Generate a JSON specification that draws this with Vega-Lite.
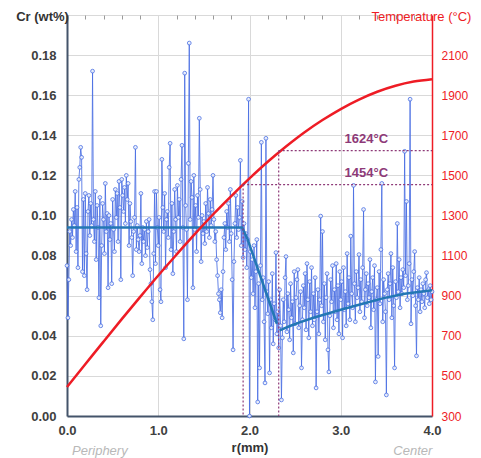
{
  "$schema": "https://vega.github.io/schema/vega-lite/v6.json",
  "width": 365,
  "height": 401,
  "autosize": "none",
  "padding": {"left": 67, "top": 15, "right": 49, "bottom": 42},
  "background": "white",
  "config": {"view": {"stroke": null}, "font": "Liberation Sans"},
  "datasets": {
    "cr": [
      {"r":0.00,"c":0.075},{"r":0.01,"c":0.049},{"r":0.02,"c":0.068},{"r":0.03,"c":0.092},{"r":0.04,"c":0.085},{"r":0.05,"c":0.098},{"r":0.06,"c":0.089},{"r":0.07,"c":0.103},{"r":0.08,"c":0.095},{"r":0.09,"c":0.112},
      {"r":0.10,"c":0.082},{"r":0.11,"c":0.104},{"r":0.12,"c":0.074},{"r":0.13,"c":0.118},{"r":0.14,"c":0.124},{"r":0.15,"c":0.134},{"r":0.16,"c":0.129},{"r":0.17,"c":0.072},{"r":0.18,"c":0.108},{"r":0.19,"c":0.070},
      {"r":0.20,"c":0.111},{"r":0.21,"c":0.081},{"r":0.22,"c":0.063},{"r":0.23,"c":0.102},{"r":0.24,"c":0.110},{"r":0.25,"c":0.090},{"r":0.26,"c":0.106},{"r":0.27,"c":0.095},{"r":0.28,"c":0.172},{"r":0.29,"c":0.098},
      {"r":0.30,"c":0.087},{"r":0.31,"c":0.112},{"r":0.32,"c":0.078},{"r":0.33,"c":0.105},{"r":0.34,"c":0.094},{"r":0.35,"c":0.059},{"r":0.36,"c":0.109},{"r":0.37,"c":0.045},{"r":0.38,"c":0.085},{"r":0.39,"c":0.106},
      {"r":0.40,"c":0.098},{"r":0.41,"c":0.081},{"r":0.42,"c":0.116},{"r":0.43,"c":0.092},{"r":0.44,"c":0.101},{"r":0.45,"c":0.064},{"r":0.46,"c":0.100},{"r":0.47,"c":0.088},{"r":0.48,"c":0.096},{"r":0.49,"c":0.066},
      {"r":0.50,"c":0.108},{"r":0.51,"c":0.093},{"r":0.52,"c":0.082},{"r":0.53,"c":0.113},{"r":0.54,"c":0.099},{"r":0.55,"c":0.111},{"r":0.56,"c":0.087},{"r":0.57,"c":0.117},{"r":0.58,"c":0.104},{"r":0.59,"c":0.068},
      {"r":0.60,"c":0.118},{"r":0.61,"c":0.110},{"r":0.62,"c":0.102},{"r":0.63,"c":0.114},{"r":0.64,"c":0.096},{"r":0.65,"c":0.120},{"r":0.66,"c":0.108},{"r":0.67,"c":0.116},{"r":0.68,"c":0.085},{"r":0.69,"c":0.106},
      {"r":0.70,"c":0.097},{"r":0.71,"c":0.089},{"r":0.72,"c":0.070},{"r":0.73,"c":0.092},{"r":0.74,"c":0.099},{"r":0.75,"c":0.134},{"r":0.76,"c":0.083},{"r":0.77,"c":0.095},{"r":0.78,"c":0.088},{"r":0.79,"c":0.082},
      {"r":0.80,"c":0.090},{"r":0.81,"c":0.111},{"r":0.82,"c":0.076},{"r":0.83,"c":0.094},{"r":0.84,"c":0.087},{"r":0.85,"c":0.093},{"r":0.86,"c":0.080},{"r":0.87,"c":0.097},{"r":0.88,"c":0.084},{"r":0.89,"c":0.092},
      {"r":0.90,"c":0.098},{"r":0.91,"c":0.073},{"r":0.92,"c":0.066},{"r":0.93,"c":0.057},{"r":0.94,"c":0.048},{"r":0.95,"c":0.081},{"r":0.96,"c":0.112},{"r":0.97,"c":0.076},{"r":0.98,"c":0.112},{"r":0.99,"c":0.094},
      {"r":1.00,"c":0.085},{"r":1.01,"c":0.099},{"r":1.02,"c":0.063},{"r":1.03,"c":0.057},{"r":1.04,"c":0.128},{"r":1.05,"c":0.104},{"r":1.06,"c":0.092},{"r":1.07,"c":0.111},{"r":1.08,"c":0.074},{"r":1.09,"c":0.098},
      {"r":1.10,"c":0.102},{"r":1.11,"c":0.089},{"r":1.12,"c":0.124},{"r":1.13,"c":0.136},{"r":1.14,"c":0.083},{"r":1.15,"c":0.106},{"r":1.16,"c":0.071},{"r":1.17,"c":0.092},{"r":1.18,"c":0.113},{"r":1.19,"c":0.098},
      {"r":1.20,"c":0.082},{"r":1.21,"c":0.115},{"r":1.22,"c":0.099},{"r":1.23,"c":0.108},{"r":1.24,"c":0.087},{"r":1.25,"c":0.118},{"r":1.26,"c":0.135},{"r":1.27,"c":0.094},{"r":1.28,"c":0.0385},{"r":1.29,"c":0.171},
      {"r":1.30,"c":0.105},{"r":1.31,"c":0.093},{"r":1.32,"c":0.058},{"r":1.33,"c":0.126},{"r":1.34,"c":0.186},{"r":1.35,"c":0.098},{"r":1.36,"c":0.117},{"r":1.37,"c":0.109},{"r":1.38,"c":0.064},{"r":1.39,"c":0.120},
      {"r":1.40,"c":0.093},{"r":1.41,"c":0.105},{"r":1.42,"c":0.082},{"r":1.43,"c":0.110},{"r":1.44,"c":0.099},{"r":1.45,"c":0.1485},{"r":1.46,"c":0.113},{"r":1.47,"c":0.077},{"r":1.48,"c":0.100},{"r":1.49,"c":0.091},
      {"r":1.50,"c":0.097},{"r":1.51,"c":0.086},{"r":1.52,"c":0.106},{"r":1.53,"c":0.092},{"r":1.54,"c":0.114},{"r":1.55,"c":0.101},{"r":1.56,"c":0.089},{"r":1.57,"c":0.108},{"r":1.58,"c":0.095},{"r":1.59,"c":0.103},
      {"r":1.60,"c":0.120},{"r":1.61,"c":0.098},{"r":1.62,"c":0.087},{"r":1.63,"c":0.092},{"r":1.64,"c":0.078},{"r":1.65,"c":0.070},{"r":1.66,"c":0.061},{"r":1.67,"c":0.058},{"r":1.68,"c":0.0515},{"r":1.69,"c":0.063},
      {"r":1.70,"c":0.049},{"r":1.71,"c":0.072},{"r":1.72,"c":0.089},{"r":1.73,"c":0.096},{"r":1.74,"c":0.083},{"r":1.75,"c":0.102},{"r":1.76,"c":0.094},{"r":1.77,"c":0.106},{"r":1.78,"c":0.087},{"r":1.79,"c":0.113},
      {"r":1.80,"c":0.091},{"r":1.81,"c":0.068},{"r":1.82,"c":0.033},{"r":1.83,"c":0.077},{"r":1.84,"c":0.096},{"r":1.85,"c":0.110},{"r":1.86,"c":0.089},{"r":1.87,"c":0.104},{"r":1.88,"c":0.093},{"r":1.89,"c":0.099},
      {"r":1.90,"c":0.1275},{"r":1.91,"c":0.085},{"r":1.92,"c":0.107},{"r":1.93,"c":0.079},{"r":1.94,"c":0.096},{"r":1.95,"c":0.083},{"r":1.96,"c":0.091},{"r":1.97,"c":0.074},{"r":1.98,"c":0.088},{"r":1.99,"c":0.158},
      {"r":2.00,"c":0.000},{"r":2.01,"c":0.082},{"r":2.02,"c":0.069},{"r":2.03,"c":0.078},{"r":2.04,"c":0.061},{"r":2.05,"c":0.085},{"r":2.06,"c":0.054},{"r":2.07,"c":0.072},{"r":2.08,"c":0.088},{"r":2.09,"c":0.007},
      {"r":2.10,"c":0.066},{"r":2.11,"c":0.024},{"r":2.12,"c":0.075},{"r":2.13,"c":0.1365},{"r":2.14,"c":0.058},{"r":2.15,"c":0.069},{"r":2.16,"c":0.047},{"r":2.17,"c":0.0165},{"r":2.18,"c":0.1385},{"r":2.19,"c":0.062},
      {"r":2.20,"c":0.051},{"r":2.21,"c":0.067},{"r":2.22,"c":0.0215},{"r":2.23,"c":0.058},{"r":2.24,"c":0.044},{"r":2.25,"c":0.071},{"r":2.26,"c":0.036},{"r":2.27,"c":0.056},{"r":2.28,"c":0.048},{"r":2.29,"c":0.0815},
      {"r":2.30,"c":0.041},{"r":2.31,"c":0.052},{"r":2.32,"c":0.034},{"r":2.33,"c":0.063},{"r":2.34,"c":0.045},{"r":2.35,"c":0.008},{"r":2.36,"c":0.039},{"r":2.37,"c":0.058},{"r":2.38,"c":0.047},{"r":2.39,"c":0.069},
      {"r":2.40,"c":0.0795},{"r":2.41,"c":0.042},{"r":2.42,"c":0.061},{"r":2.43,"c":0.053},{"r":2.44,"c":0.038},{"r":2.45,"c":0.066},{"r":2.46,"c":0.049},{"r":2.47,"c":0.057},{"r":2.48,"c":0.0315},{"r":2.49,"c":0.072},
      {"r":2.50,"c":0.046},{"r":2.51,"c":0.059},{"r":2.52,"c":0.068},{"r":2.53,"c":0.073},{"r":2.54,"c":0.044},{"r":2.55,"c":0.055},{"r":2.56,"c":0.062},{"r":2.57,"c":0.024},{"r":2.58,"c":0.048},{"r":2.59,"c":0.065},
      {"r":2.60,"c":0.054},{"r":2.61,"c":0.071},{"r":2.62,"c":0.043},{"r":2.63,"c":0.076},{"r":2.64,"c":0.058},{"r":2.65,"c":0.039},{"r":2.66,"c":0.067},{"r":2.67,"c":0.052},{"r":2.68,"c":0.074},{"r":2.69,"c":0.045},
      {"r":2.70,"c":0.061},{"r":2.71,"c":0.048},{"r":2.72,"c":0.069},{"r":2.73,"c":0.014},{"r":2.74,"c":0.052},{"r":2.75,"c":0.063},{"r":2.76,"c":0.041},{"r":2.77,"c":0.058},{"r":2.78,"c":0.0997},{"r":2.79,"c":0.055},
      {"r":2.80,"c":0.092},{"r":2.81,"c":0.047},{"r":2.82,"c":0.066},{"r":2.83,"c":0.038},{"r":2.84,"c":0.059},{"r":2.85,"c":0.071},{"r":2.86,"c":0.033},{"r":2.87,"c":0.022},{"r":2.88,"c":0.050},{"r":2.89,"c":0.068},
      {"r":2.90,"c":0.057},{"r":2.91,"c":0.075},{"r":2.92,"c":0.044},{"r":2.93,"c":0.063},{"r":2.94,"c":0.052},{"r":2.95,"c":0.076},{"r":2.96,"c":0.048},{"r":2.97,"c":0.065},{"r":2.98,"c":0.041},{"r":2.99,"c":0.072},
      {"r":3.00,"c":0.058},{"r":3.01,"c":0.067},{"r":3.02,"c":0.039},{"r":3.03,"c":0.074},{"r":3.04,"c":0.053},{"r":3.05,"c":0.062},{"r":3.06,"c":0.045},{"r":3.07,"c":0.081},{"r":3.08,"c":0.056},{"r":3.09,"c":0.069},
      {"r":3.10,"c":0.048},{"r":3.11,"c":0.0897},{"r":3.12,"c":0.061},{"r":3.13,"c":0.054},{"r":3.14,"c":0.115},{"r":3.15,"c":0.066},{"r":3.16,"c":0.047},{"r":3.17,"c":0.072},{"r":3.18,"c":0.059},{"r":3.19,"c":0.064},
      {"r":3.20,"c":0.0805},{"r":3.21,"c":0.052},{"r":3.22,"c":0.068},{"r":3.23,"c":0.057},{"r":3.24,"c":0.074},{"r":3.25,"c":0.103},{"r":3.26,"c":0.049},{"r":3.27,"c":0.063},{"r":3.28,"c":0.071},{"r":3.29,"c":0.055},
      {"r":3.30,"c":0.066},{"r":3.31,"c":0.059},{"r":3.32,"c":0.078},{"r":3.33,"c":0.044},{"r":3.34,"c":0.062},{"r":3.35,"c":0.069},{"r":3.36,"c":0.053},{"r":3.37,"c":0.075},{"r":3.38,"c":0.017},{"r":3.39,"c":0.058},
      {"r":3.40,"c":0.064},{"r":3.41,"c":0.0297},{"r":3.42,"c":0.072},{"r":3.43,"c":0.056},{"r":3.44,"c":0.083},{"r":3.45,"c":0.116},{"r":3.46,"c":0.047},{"r":3.47,"c":0.068},{"r":3.48,"c":0.061},{"r":3.49,"c":0.052},
      {"r":3.50,"c":0.0105},{"r":3.51,"c":0.063},{"r":3.52,"c":0.071},{"r":3.53,"c":0.058},{"r":3.54,"c":0.066},{"r":3.55,"c":0.081},{"r":3.56,"c":0.049},{"r":3.57,"c":0.074},{"r":3.58,"c":0.055},{"r":3.59,"c":0.024},
      {"r":3.60,"c":0.067},{"r":3.61,"c":0.059},{"r":3.62,"c":0.096},{"r":3.63,"c":0.062},{"r":3.64,"c":0.078},{"r":3.65,"c":0.054},{"r":3.66,"c":0.069},{"r":3.67,"c":0.061},{"r":3.68,"c":0.073},{"r":3.69,"c":0.064},
      {"r":3.70,"c":0.132},{"r":3.71,"c":0.070},{"r":3.72,"c":0.107},{"r":3.73,"c":0.058},{"r":3.74,"c":0.065},{"r":3.75,"c":0.076},{"r":3.76,"c":0.158},{"r":3.77,"c":0.046},{"r":3.78,"c":0.068},{"r":3.79,"c":0.060},
      {"r":3.80,"c":0.072},{"r":3.81,"c":0.082},{"r":3.82,"c":0.055},{"r":3.83,"c":0.030},{"r":3.84,"c":0.064},{"r":3.85,"c":0.058},{"r":3.86,"c":0.069},{"r":3.87,"c":0.052},{"r":3.88,"c":0.063},{"r":3.89,"c":0.057},
      {"r":3.90,"c":0.066},{"r":3.91,"c":0.061},{"r":3.92,"c":0.054},{"r":3.93,"c":0.068},{"r":3.94,"c":0.0715},{"r":3.95,"c":0.059},{"r":3.96,"c":0.063},{"r":3.97,"c":0.056},{"r":3.98,"c":0.065},{"r":3.99,"c":0.058},
      {"r":4.00,"c":0.062}
    ],
    "fit": [
      {"seg":"a","r":0,"c":0.094},{"seg":"a","r":1.92,"c":0.094},{"seg":"a","r":1.98,"c":0.088},{"seg":"a","r":2.30,"c":0.046},
      {"seg":"b","r":2.33,"c":0.0427},{"seg":"b","r":2.45,"c":0.045},{"seg":"b","r":2.55,"c":0.0467},{"seg":"b","r":2.7,"c":0.049},{"seg":"b","r":2.85,"c":0.051},{"seg":"b","r":3.0,"c":0.053},{"seg":"b","r":3.2,"c":0.0555},{"seg":"b","r":3.47,"c":0.0588},{"seg":"b","r":3.7,"c":0.061},{"seg":"b","r":4.0,"c":0.0627}
    ],
    "temp": [
      {"r":0.0,"t":445},{"r":0.2,"t":558},{"r":0.4,"t":671},{"r":0.6,"t":783},{"r":0.8,"t":893},{"r":1.0,"t":1001},{"r":1.2,"t":1105},{"r":1.4,"t":1207},{"r":1.6,"t":1305},{"r":1.8,"t":1397},{"r":2.0,"t":1485},
      {"r":2.2,"t":1568},{"r":2.4,"t":1644},{"r":2.6,"t":1714},{"r":2.8,"t":1776},{"r":3.0,"t":1831},{"r":3.2,"t":1878},{"r":3.4,"t":1917},{"r":3.6,"t":1947},{"r":3.8,"t":1968},{"r":4.0,"t":1980}
    ],
    "marks": [
      {"r":1.93,"t":1454,"lx":3.28,"label":"1454°C"},
      {"r":2.32,"t":1624,"lx":3.28,"label":"1624°C"}
    ],
    "ends": [
      {"r":0.36,"c":-0.0175,"label":"Periphery"},
      {"r":3.79,"c":-0.0175,"label":"Center"}
    ]
  },
  "layer": [
    {
      "encoding": {
        "x": {
          "field": "r", "type": "quantitative",
          "scale": {"domain": [0, 4], "nice": false},
          "axis": {
            "values": [0, 1, 2, 3, 4], "format": ".1f", "labelFlush": false,
            "labelFontSize": 13, "labelFontWeight": "bold", "labelColor": "#404040", "labelPadding": 8,
            "title": "r(mm)", "titleFontSize": 13, "titleFontWeight": "bold", "titleColor": "#333333", "titlePadding": 4,
            "ticks": false, "domainColor": "#44546a", "domainWidth": 2,
            "grid": true, "gridColor": "#d9d9d9", "gridWidth": 1
          }
        }
      },
      "layer": [
        {
          "data": {"name": "cr"},
          "mark": {"type": "line", "color": "#4a6fe3", "strokeWidth": 1, "opacity": 0.85},
          "encoding": {
            "y": {
              "field": "c", "type": "quantitative",
              "scale": {"domain": [0, 0.2], "nice": false},
              "axis": {
                "values": [0, 0.02, 0.04, 0.06, 0.08, 0.1, 0.12, 0.14, 0.16, 0.18, 0.2],
                "labelExpr": "datum.value > 0.19 ? '' : format(datum.value, '.2f')",
                "labelFontSize": 13, "labelFontWeight": "bold", "labelColor": "#404040", "labelPadding": 11,
                "ticks": false, "domainColor": "#44546a", "domainWidth": 2,
                "grid": true, "gridColor": "#d9d9d9", "gridWidth": 1,
                "title": "Cr (wt%)", "titleAngle": 0, "titleX": -25, "titleY": 1,
                "titleAlign": "center", "titleBaseline": "middle",
                "titleFontSize": 13, "titleFontWeight": "bold", "titleColor": "#333333"
              }
            }
          }
        },
        {
          "data": {"name": "cr"},
          "mark": {"type": "point", "shape": "circle", "size": 14, "filled": false, "fill": "#eef2fd", "fillOpacity": 1, "stroke": "#4a6fe3", "strokeWidth": 0.9, "opacity": 0.9},
          "encoding": {"y": {"field": "c", "type": "quantitative"}}
        },
        {
          "data": {"name": "fit"},
          "mark": {"type": "line", "color": "#2377b4", "strokeWidth": 2.5},
          "encoding": {
            "y": {"field": "c", "type": "quantitative"},
            "detail": {"field": "seg"}
          }
        },
        {
          "data": {"name": "ends"},
          "mark": {"type": "text", "fontStyle": "italic", "fontSize": 13, "color": "#b8b8b8", "baseline": "middle"},
          "encoding": {
            "y": {"field": "c", "type": "quantitative"},
            "text": {"field": "label"}
          }
        }
      ]
    },
    {
      "encoding": {
        "x": {
          "field": "r", "type": "quantitative",
          "axis": {
            "values": [0.2, 0.4, 0.6, 0.8, 1.2, 1.4, 1.6, 1.8, 2.2, 2.4, 2.6, 2.8, 3.2, 3.4, 3.6, 3.8],
            "labels": false, "domain": false, "grid": false, "title": null,
            "ticks": true, "tickSize": -4, "tickColor": "#9a9a9a", "tickWidth": 1
          }
        }
      },
      "layer": [
        {
          "data": {"name": "temp"},
          "mark": {"type": "line", "color": "#ee1c25", "strokeWidth": 2.5, "interpolate": "monotone"},
          "encoding": {
            "y": {
              "field": "t", "type": "quantitative",
              "scale": {"domain": [300, 2300], "nice": false},
              "axis": {
                "orient": "right",
                "values": [300, 500, 700, 900, 1100, 1300, 1500, 1700, 1900, 2100],
                "format": "d",
                "labelFontSize": 12, "labelColor": "#ee1c25", "labelPadding": 9,
                "ticks": false, "grid": false, "domainColor": "#ee1c25", "domainWidth": 1.5,
                "title": "Temperature (°C)", "titleAngle": 0, "titleX": -11, "titleY": 1,
                "titleAlign": "center", "titleBaseline": "middle",
                "titleFontSize": 13, "titleFontWeight": "normal", "titleColor": "#ee1c25"
              }
            }
          }
        },
        {
          "data": {"name": "marks"},
          "mark": {"type": "rule", "color": "#8e3a78", "strokeWidth": 1.2, "strokeDash": [2, 2]},
          "encoding": {
            "y": {"field": "t", "type": "quantitative"},
            "y2": {"datum": 300}
          }
        },
        {
          "data": {"name": "marks"},
          "mark": {"type": "rule", "color": "#8e3a78", "strokeWidth": 1.2, "strokeDash": [2, 2]},
          "encoding": {
            "x2": {"datum": 4},
            "y": {"field": "t", "type": "quantitative"}
          }
        },
        {
          "data": {"name": "marks"},
          "mark": {"type": "text", "color": "#8e3a78", "fontSize": 13, "fontWeight": "bold", "dy": -12, "baseline": "middle"},
          "encoding": {
            "x": {"field": "lx", "type": "quantitative"},
            "y": {"field": "t", "type": "quantitative"},
            "text": {"field": "label"}
          }
        }
      ]
    }
  ],
  "resolve": {"scale": {"y": "independent"}, "axis": {"x": "independent", "y": "independent"}}
}
